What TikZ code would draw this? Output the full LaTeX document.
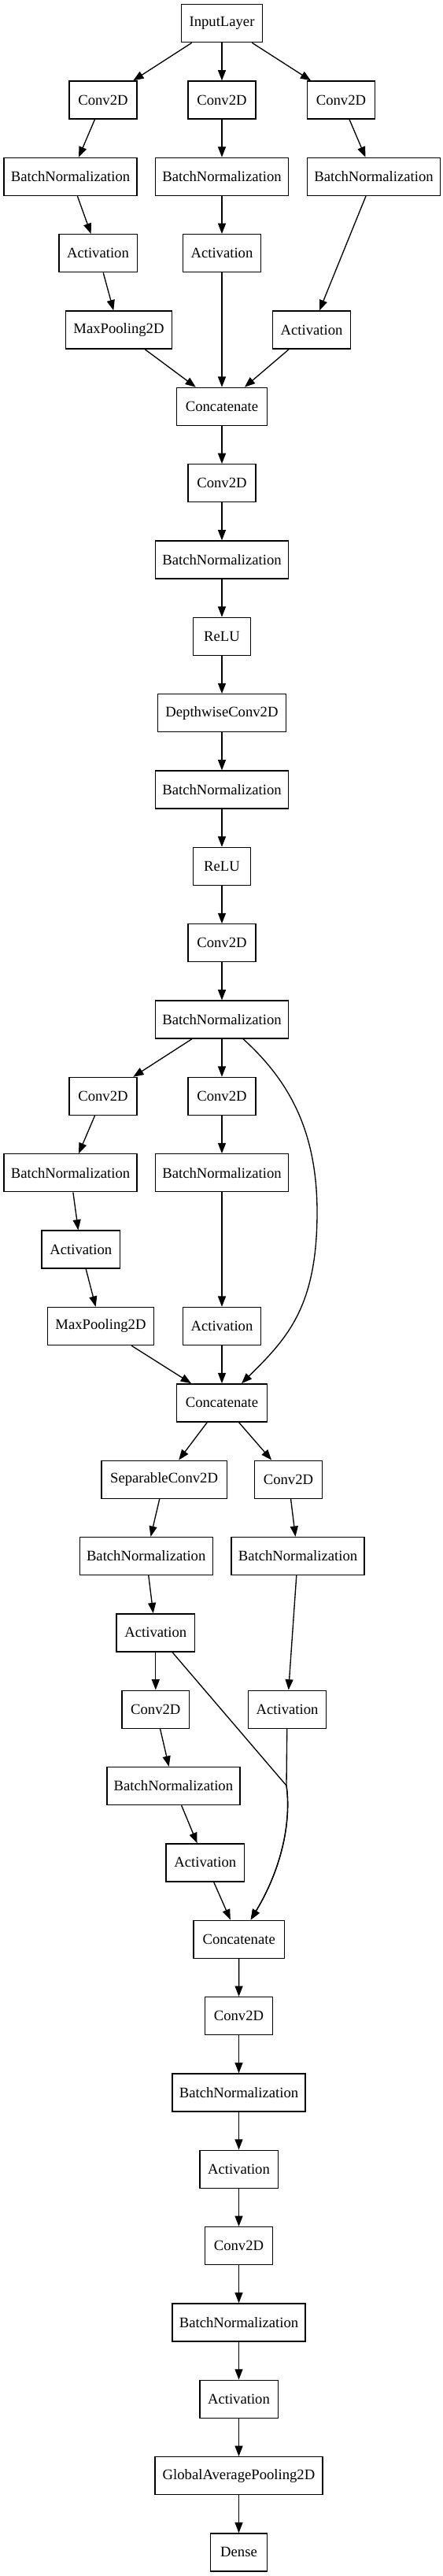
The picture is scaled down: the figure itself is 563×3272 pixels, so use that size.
\documentclass[tikz,border=0pt]{standalone}
\usepackage{fontspec}
\setmainfont{Liberation Serif}
\usetikzlibrary{arrows.meta}
\begin{document}
\begin{tikzpicture}[x=0.75pt,y=-0.75pt,
  lay/.style={draw=black, line width=1pt, rectangle, minimum height=36pt, inner xsep=1pt, inner ysep=0pt, font=\fontsize{14pt}{17pt}\selectfont},
  sIn/.style={lay, minimum width=77pt},
  sConv/.style={lay, minimum width=64.3pt},
  sBN/.style={lay, minimum width=126.75pt},
  sAct/.style={lay, minimum width=74.5pt},
  sMP/.style={lay, minimum width=101.5pt},
  sCat/.style={lay, minimum width=86.5pt},
  sReLU/.style={lay, minimum width=54.3pt},
  sDW/.style={lay, minimum width=122.6pt},
  sSep/.style={lay, minimum width=119.4pt},
  sGAP/.style={lay, minimum width=159.7pt},
  sDense/.style={lay, minimum width=54.3pt},
  link/.style={draw=black, line width=1pt, -{Triangle[length=10pt,width=7.5pt]}}
]
\useasboundingbox (0,0) rectangle (563,3272);

% rank 0-5
\node[sIn] (in) at (282,29.7) {InputLayer};
\node[sConv] (c1a) at (131,127.04) {Conv2D};
\node[sConv] (c1b) at (282,127.04) {Conv2D};
\node[sConv] (c1c) at (433.5,127.04) {Conv2D};
\node[sBN] (bn1a) at (89.5,224.38) {BatchNormalization};
\node[sBN] (bn1b) at (282,224.38) {BatchNormalization};
\node[sBN] (bn1c) at (475,224.38) {BatchNormalization};
\node[sAct] (a1a) at (124.5,321.72) {Activation};
\node[sAct] (a1b) at (282,321.72) {Activation};
\node[sMP] (mp1) at (151,419.06) {MaxPooling2D};
\node[sAct] (a1c) at (396,419.06) {Activation};
\node[sCat] (cat1) at (282,516.4) {Concatenate};

% rank 6-13
\node[sConv] (cv1) at (282,613.74) {Conv2D};
\node[sBN] (bnA) at (282,711.08) {BatchNormalization};
\node[sReLU] (relu1) at (282,808.42) {ReLU};
\node[sDW] (dw) at (282,905.76) {DepthwiseConv2D};
\node[sBN] (bnB) at (282,1003.1) {BatchNormalization};
\node[sReLU] (relu2) at (282,1100.44) {ReLU};
\node[sConv] (cv2) at (282,1197.78) {Conv2D};
\node[sBN] (bnC) at (282,1295.12) {BatchNormalization};

% rank 14-18
\node[sConv] (c2a) at (131,1392.46) {Conv2D};
\node[sConv] (c2b) at (282,1392.46) {Conv2D};
\node[sBN] (bn2a) at (89.5,1489.8) {BatchNormalization};
\node[sBN] (bn2b) at (282,1489.8) {BatchNormalization};
\node[sAct] (a2a) at (102.8,1587.14) {Activation};
\node[sMP] (mp2) at (128,1684.48) {MaxPooling2D};
\node[sAct] (a2b) at (282,1684.48) {Activation};
\node[sCat] (cat2) at (282,1781.82) {Concatenate};

% rank 19-25
\node[sSep] (sep) at (208.6,1879.16) {SeparableConv2D};
\node[sConv] (c3b) at (366.5,1879.16) {Conv2D};
\node[sBN] (bn3a) at (185.7,1976.5) {BatchNormalization};
\node[sBN] (bn3b) at (378.5,1976.5) {BatchNormalization};
\node[sAct] (a3a) at (197.8,2073.84) {Activation};
\node[sConv] (c3c) at (197.8,2171.18) {Conv2D};
\node[sAct] (a3b) at (365,2171.18) {Activation};
\node[sBN] (bn3c) at (220.4,2268.52) {BatchNormalization};
\node[sAct] (a3c) at (260.8,2365.86) {Activation};
\node[sCat] (cat3) at (303.7,2463.2) {Concatenate};

% rank 26-33
\node[sConv] (cv4) at (303.5,2560.54) {Conv2D};
\node[sBN] (bn4) at (303.5,2657.88) {BatchNormalization};
\node[sAct] (act4) at (303.5,2755.22) {Activation};
\node[sConv] (cv5) at (303.5,2852.56) {Conv2D};
\node[sBN] (bn5) at (303.5,2949.9) {BatchNormalization};
\node[sAct] (act5) at (303.5,3047.24) {Activation};
\node[sGAP] (gap) at (303.5,3144.58) {GlobalAveragePooling2D};
\node[sDense] (dense) at (303.5,3241.92) {Dense};

\coordinate (m) at (364,2268);

% edges, first block
\draw[link] (in) -- (c1a);
\draw[link] (in) -- (c1b);
\draw[link] (in) -- (c1c);
\draw[link] (c1a) -- (bn1a);
\draw[link] (c1b) -- (bn1b);
\draw[link] (c1c) -- (bn1c);
\draw[link] (bn1a) -- (a1a);
\draw[link] (bn1b) -- (a1b);
\draw[link] (bn1c) -- (a1c);
\draw[link] (a1a) -- (mp1);
\draw[link] (a1b) -- (cat1);
\draw[link] (mp1) -- (cat1);
\draw[link] (a1c) -- (cat1);

% chain
\draw[link] (cat1) -- (cv1);
\draw[link] (cv1) -- (bnA);
\draw[link] (bnA) -- (relu1);
\draw[link] (relu1) -- (dw);
\draw[link] (dw) -- (bnB);
\draw[link] (bnB) -- (relu2);
\draw[link] (relu2) -- (cv2);
\draw[link] (cv2) -- (bnC);

% second block
\draw[link] (bnC) -- (c2a);
\draw[link] (bnC) -- (c2b);
\draw[link] (bnC) .. controls (370,1375) and (403,1440) .. (403,1540)
                   .. controls (403,1660) and (365,1700) .. (cat2);
\draw[link] (c2a) -- (bn2a);
\draw[link] (bn2a) -- (a2a);
\draw[link] (a2a) -- (mp2);
\draw[link] (c2b) -- (bn2b);
\draw[link] (bn2b) -- (a2b);
\draw[link] (mp2) -- (cat2);
\draw[link] (a2b) -- (cat2);

% third block
\draw[link] (cat2) -- (sep);
\draw[link] (cat2) -- (c3b);
\draw[link] (sep) -- (bn3a);
\draw[link] (bn3a) -- (a3a);
\draw[link] (a3a) -- (c3c);
\draw[link] (c3c) -- (bn3c);
\draw[link] (bn3c) -- (a3c);
\draw[link] (a3c) -- (cat3);
\draw[link] (c3b) -- (bn3b);
\draw[link] (bn3b) -- (a3b);
\draw[link] (a3a) -- (m) .. controls (370,2310) and (360,2370) .. (cat3);
\draw[link] (a3b) -- (m) .. controls (370,2310) and (360,2370) .. (cat3);

% tail
\draw[link] (cat3) -- (cv4);
\draw[link] (cv4) -- (bn4);
\draw[link] (bn4) -- (act4);
\draw[link] (act4) -- (cv5);
\draw[link] (cv5) -- (bn5);
\draw[link] (bn5) -- (act5);
\draw[link] (act5) -- (gap);
\draw[link] (gap) -- (dense);
\end{tikzpicture}
\end{document}
